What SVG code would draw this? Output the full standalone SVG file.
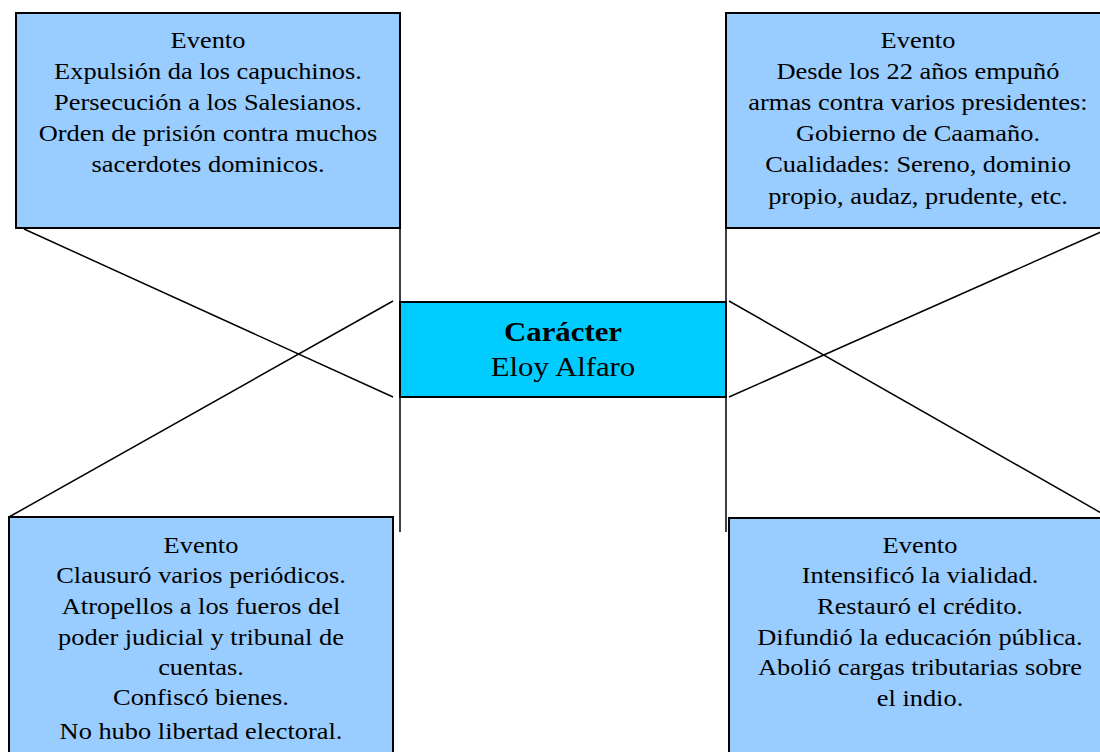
<svg xmlns="http://www.w3.org/2000/svg" width="1100" height="752" viewBox="0 0 1100 752">
<style>
.box{fill:#99CCFF;stroke:#000;stroke-width:2}
.center{fill:#00CCFF;stroke:#000;stroke-width:2}
.t{font-family:"Liberation Serif","Times New Roman",serif;font-size:24px;fill:#000;text-anchor:middle}
.c{font-family:"Liberation Serif","Times New Roman",serif;font-size:28px;fill:#000;text-anchor:middle}
.conn line{stroke:#000;stroke-width:1.5}
</style>
<rect width="1100" height="752" fill="#fff"/>
<g id="node-top-left">
<rect class="box" x="16" y="13" width="384" height="215"/>
<g transform="translate(208,0) scale(1.1,1)">
<text class="t" x="0" y="48">Evento</text>
<text class="t" x="0" y="79">Expulsión da los capuchinos.</text>
<text class="t" x="0" y="110">Persecución a los Salesianos.</text>
<text class="t" x="0" y="141">Orden de prisión contra muchos</text>
<text class="t" x="0" y="172">sacerdotes dominicos.</text>
</g>
</g>
<g id="node-top-right">
<rect class="box" x="726" y="13" width="390" height="215"/>
<g transform="translate(918,0) scale(1.1,1)">
<text class="t" x="0" y="48">Evento</text>
<text class="t" x="0" y="79">Desde los 22 años empuñó</text>
<text class="t" x="0" y="110">armas contra varios presidentes:</text>
<text class="t" x="0" y="141">Gobierno de Caamaño.</text>
<text class="t" x="0" y="172">Cualidades: Sereno, dominio</text>
<text class="t" x="0" y="204">propio, audaz, prudente, etc.</text>
</g>
</g>
<g id="node-bottom-left">
<rect class="box" x="9" y="517" width="384" height="250"/>
<g transform="translate(201,0) scale(1.1,1)">
<text class="t" x="0" y="553">Evento</text>
<text class="t" x="0" y="583">Clausuró varios periódicos.</text>
<text class="t" x="0" y="614">Atropellos a los fueros del</text>
<text class="t" x="0" y="645">poder judicial y tribunal de</text>
<text class="t" x="0" y="675">cuentas.</text>
<text class="t" x="0" y="705">Confiscó bienes.</text>
<text class="t" x="0" y="739">No hubo libertad electoral.</text>
</g>
</g>
<g id="node-bottom-right">
<rect class="box" x="729" y="518" width="390" height="250"/>
<g transform="translate(920,0) scale(1.1,1)">
<text class="t" x="0" y="553">Evento</text>
<text class="t" x="0" y="583">Intensificó la vialidad.</text>
<text class="t" x="0" y="614">Restauró el crédito.</text>
<text class="t" x="0" y="645">Difundió la educación pública.</text>
<text class="t" x="0" y="675">Abolió cargas tributarias sobre</text>
<text class="t" x="0" y="706">el indio.</text>
</g>
</g>
<g id="connectors" class="conn">
<line x1="400" y1="157" x2="400" y2="532"/>
<line x1="726" y1="182" x2="726" y2="532"/>
<line x1="24" y1="229" x2="393" y2="397"/>
<line x1="9" y1="517" x2="393" y2="301"/>
<line x1="729" y1="301" x2="1110" y2="518"/>
<line x1="729" y1="397" x2="1110" y2="228"/>
</g>
<g id="node-center">
<rect class="center" x="400" y="302" width="326" height="95"/>
<g transform="translate(563,0) scale(1.1,1)">
<text class="c" x="0" y="341" font-weight="bold">Carácter</text>
<text class="c" x="0" y="376">Eloy Alfaro</text>
</g>
</g>
</svg>
